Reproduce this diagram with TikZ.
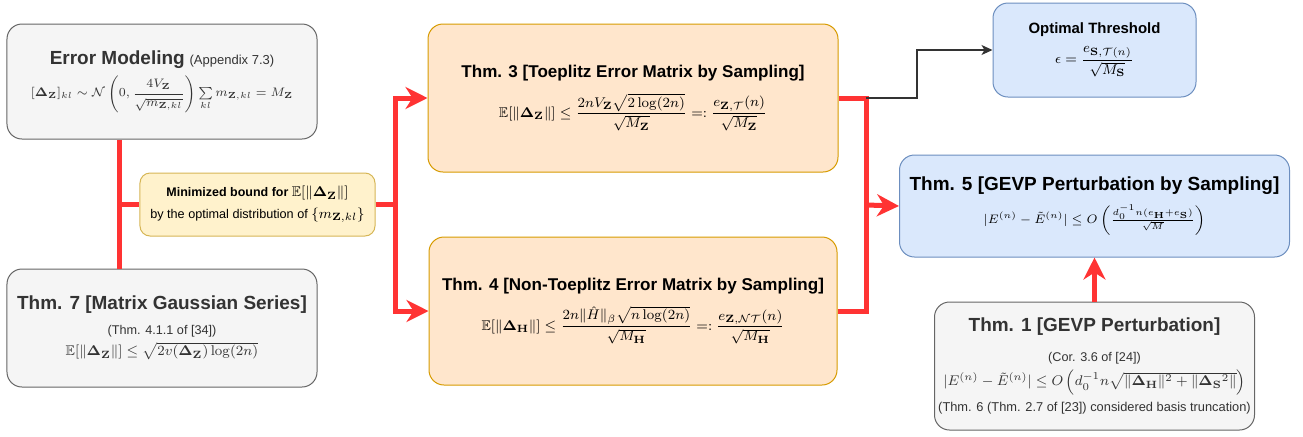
\documentclass[tikz,border=0pt]{standalone}
\usepackage{amsmath,amssymb,bm}
\usepackage[no-math]{fontspec}
\setmainfont{Liberation Sans}
\usetikzlibrary{positioning,arrows.meta}

\definecolor{greyfill}{HTML}{F5F5F5}
\definecolor{greyline}{HTML}{666666}
\definecolor{greytext}{HTML}{333333}
\definecolor{notefill}{HTML}{FFF2CC}
\definecolor{noteline}{HTML}{D6B656}
\definecolor{thmfill}{HTML}{FFE6CC}
\definecolor{thmline}{HTML}{D79B00}
\definecolor{bluefill}{HTML}{DAE8FC}
\definecolor{blueline}{HTML}{6C8EBF}
\definecolor{flowred}{HTML}{FF3333}

\newcommand{\bDelta}{\boldsymbol{\Delta}}
\newcommand{\bZ}{\mathbf{Z}}
\newcommand{\bH}{\mathbf{H}}
\newcommand{\bS}{\mathbf{S}}
\newcommand{\fsz}[1]{\fontsize{#1}{1.2\dimexpr#1pt}\selectfont}

\begin{document}
\begin{tikzpicture}[x=0.2mm, y=-0.2mm, >=Stealth,
  box/.style={draw, rectangle, rounded corners=3mm, align=center, line width=0.2mm, inner sep=2pt},
  greybox/.style={box, fill=greyfill, draw=greyline, text=greytext},
  notebox/.style={box, rounded corners=2mm, fill=notefill, draw=noteline},
  thmbox/.style={box, fill=thmfill, draw=thmline},
  bluebox/.style={box, fill=bluefill, draw=blueline},
  redline/.style={draw=flowred, line width=1mm},
  redarrow/.style={redline, -{Stealth[length=4.4mm, width=4.4mm, inset=1.4mm]}},
  blackarrow/.style={draw=greytext, line width=0.25mm, -{Stealth[length=2.2mm, width=2mm, inset=0.6mm]}}]
  \useasboundingbox (0,0) rectangle (1303,436);

  \node[greybox, minimum width=62mm, minimum height=23mm] (errmod) at (162,81.5)
    {{\fsz{10.8}\bfseries Error Modeling} {\fsz{7.4}(Appendix 7.3)}\\[3pt]
     {\fsz{7}$[\bDelta_{\bZ}]_{kl}\sim\mathcal{N}\left(0,\dfrac{4V_{\bZ}}{\sqrt{m_{\bZ,kl}}}\right)\sum\limits_{kl}m_{\bZ,kl}=M_{\bZ}$}};
  \node[greybox, minimum width=62mm, minimum height=23.6mm, below=25.8mm of errmod] (thmseven)
    {{\fsz{10.8}\bfseries Thm. 7 [Matrix Gaussian Series]}\\[2pt]
     {\fsz{7.2}(Thm. 4.1.1 of [34])}\\
     {\fsz{8}$\mathbb{E}[\|\bDelta_{\bZ}\|]\le\sqrt{2v(\bDelta_{\bZ})\log(2n)}$}};
  \node[notebox, minimum width=47mm, minimum height=12.6mm] (minbound) at (257.5,204.5)
    {{\fsz{7.1}\bfseries Minimized bound for {\fsz{8}$\mathbb{E}[\|\bDelta_{\bZ}\|]$}}\\
     {\fsz{7.2}by the optimal distribution of {\fsz{8}$\{m_{\bZ,kl}\}$}}};
  \node[thmbox, minimum width=82mm, minimum height=29.6mm] (thmthree) at (633,98)
    {{\fsz{9.7}\bfseries Thm. 3 [Toeplitz Error Matrix by Sampling]}\\[6pt]
     {\fsz{8}$\mathbb{E}[\|\bDelta_{\bZ}\|]\le\dfrac{2nV_{\bZ}\sqrt{2\log(2n)}}{\sqrt{M_{\bZ}}}=:\dfrac{e_{\bZ,\mathcal{T}}(n)}{\sqrt{M_{\bZ}}}$}};
  \node[thmbox, minimum width=81.6mm, minimum height=29.6mm, below=12.8mm of thmthree] (thmfour)
    {{\fsz{9.7}\bfseries Thm. 4 [Non-Toeplitz Error Matrix by Sampling]}\\[6pt]
     {\fsz{8}$\mathbb{E}[\|\bDelta_{\bH}\|]\le\dfrac{2n\|\hat{H}\|_{\beta}\sqrt{n\log(2n)}}{\sqrt{M_{\bH}}}=:\dfrac{e_{\bZ,\mathcal{NT}}(n)}{\sqrt{M_{\bH}}}$}};
  \node[bluebox, minimum width=40.6mm, minimum height=18.8mm] (optthr) at (1094.5,50)
    {{\fsz{8.5}\bfseries Optimal Threshold}\\[5pt]
     {\fsz{8}$\epsilon=\dfrac{e_{\bS,\mathcal{T}(n)}}{\sqrt{M_{\bS}}}$}};
  \node[bluebox, minimum width=78mm, minimum height=20.4mm, below=11.4mm of optthr] (thmfive)
    {{\fsz{10.8}\bfseries Thm. 5 [GEVP Perturbation by Sampling]}\\[5pt]
     {\fsz{7}$|E^{(n)}-\tilde{E}^{(n)}|\le O\left(\frac{d_0^{-1}n(e_{\bH}+e_{\bS})}{\sqrt{M}}\right)$}};
  \node[greybox, minimum width=64mm, minimum height=25.6mm, below=8.8mm of thmfive] (thmone)
    {{\fsz{10.8}\bfseries Thm. 1 [GEVP Perturbation]}\\[5pt]
     {\fsz{7.2}(Cor. 3.6 of [24])}\\[2pt]
     {\fsz{8}$|E^{(n)}-\tilde{E}^{(n)}|\le O\left(d_0^{-1}n\sqrt{\|\bDelta_{\bH}\|^2+\|\bDelta_{\bS}{}^{2}\|}\right)$}\\[3pt]
     {\fsz{7.3}(Thm. 6 (Thm. 2.7 of [23]) considered basis truncation)}};

  \coordinate (lspine) at (119,204.5);
  \coordinate (split) at (395,204.5);
  \coordinate (join) at (866,205);
  \coordinate (kink) at (917,98);

  \draw[redline] (errmod.south -| lspine) -- (thmseven.north -| lspine);
  \draw[redline] (lspine) -- (minbound.west);
  \draw[redarrow] (minbound.east) -- (split) |- (thmthree.west);
  \draw[redarrow] (split) |- (thmfour.west);
  \draw[redline] (thmthree.east) -| (join);
  \draw[redline] (thmfour.east) -| (join);
  \draw[redarrow] (join) -- (thmfive.west);
  \draw[blackarrow] (join |- thmthree.east) -- (kink) |- (optthr.west);
  \draw[redarrow] (thmone.north) -- (thmfive.south);
\end{tikzpicture}
\end{document}
